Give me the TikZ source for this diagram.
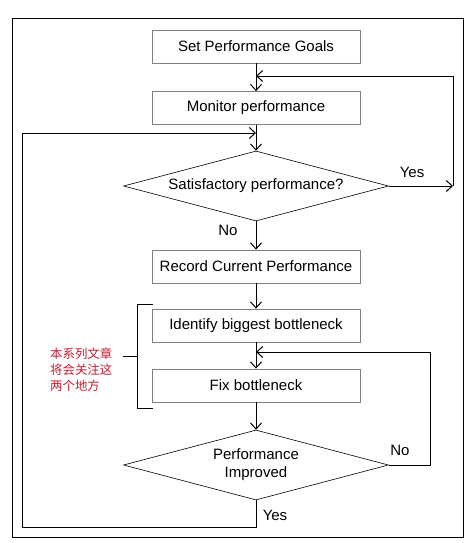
\documentclass[tikz,border=0pt]{standalone}
\usepackage{fontspec}
\setmainfont{Liberation Sans}
\newfontfamily\cjkfont{Noto Sans CJK SC}
\usetikzlibrary{arrows.meta,shapes.geometric}
\definecolor{notered}{RGB}{200,25,45}

\begin{document}
\begin{tikzpicture}[x=1pt,y=-1pt,
  font=\fontsize{15}{18}\selectfont,
  stepbox/.style={draw=gray, line width=0.8pt, minimum width=208pt, minimum height=33pt, inner sep=2pt},
  decision/.style={diamond, draw, line width=0.6pt, minimum width=265pt, minimum height=70pt, inner sep=0pt, aspect=3.8, align=center},
  flow/.style={line width=1pt, -{Straight Barb[length=6pt,width=11pt]}},
  plain/.style={line width=0.9pt}]
	\useasboundingbox (0,0) rectangle (473,543);
	% outer frame
	\draw[line width=0.8pt] (12,18) rectangle (463,537);

	% steps
	\node[stepbox] (goals) at (256,46.5) {Set Performance Goals};
	\node[stepbox] (monitor) at (256,108) {Monitor performance};
	\node[decision] (satisfied) at (256,186) {Satisfactory performance?};
	\node[stepbox] (record) at (256,266.5) {Record Current Performance};
	\node[stepbox] (identify) at (256,325.5) {Identify biggest bottleneck};
	\node[stepbox] (fix) at (256,385.5) {Fix bottleneck};
	\node[decision] (improved) at (256,465) {Performance\\Improved};

	% corner points of the loops
	\coordinate (yesEnd) at (453,186);
	\coordinate (monitorIn) at (256,76);
	\coordinate (loopIn) at (256,133);
	\coordinate (loopBottom) at (256,527);
	\coordinate (loopLeft) at (22,527);
	\coordinate (noRight) at (430,465);
	\coordinate (fixIn) at (256,352);

	% main flow
	\draw[flow] (goals) -- (monitor);
	\draw[flow] (monitor) -- (satisfied);
	\draw[flow] (satisfied) -- (record);
	\draw[flow] (record) -- (identify);
	\draw[flow] (identify) -- (fix);
	\draw[flow] (fix) -- (improved);

	% loops back
	\draw[flow] (satisfied.east) -- (yesEnd);
	\draw[flow] (yesEnd) |- (monitorIn);
	\draw[flow] (improved.east) -- (noRight) |- (fixIn);
	\draw[flow] (improved.south) -- (loopBottom) -- (loopLeft) |- (loopIn);

	% branch labels
	\node (yesTop) at (412,172) {Yes};
	\node (noTop) at (228,230) {No};
	\node (noBottom) at (400,450) {No};
	\node (yesBottom) at (275,515) {Yes};

	% bracket with note
	\draw[plain] (153,304) -- (137,304) -- (137,408) -- (153,408);
	\coordinate (bracketMid) at (137,356);
	\node[text=notered, font=\cjkfont\fontsize{12.4}{16}\selectfont, align=left, anchor=west, inner sep=0pt] (note) at (50,370) {本系列文章\\将会关注这\\两个地方};
	\draw[plain] (bracketMid) -- ++(-14,0) coordinate (noteTick);
\end{tikzpicture}
\end{document}
